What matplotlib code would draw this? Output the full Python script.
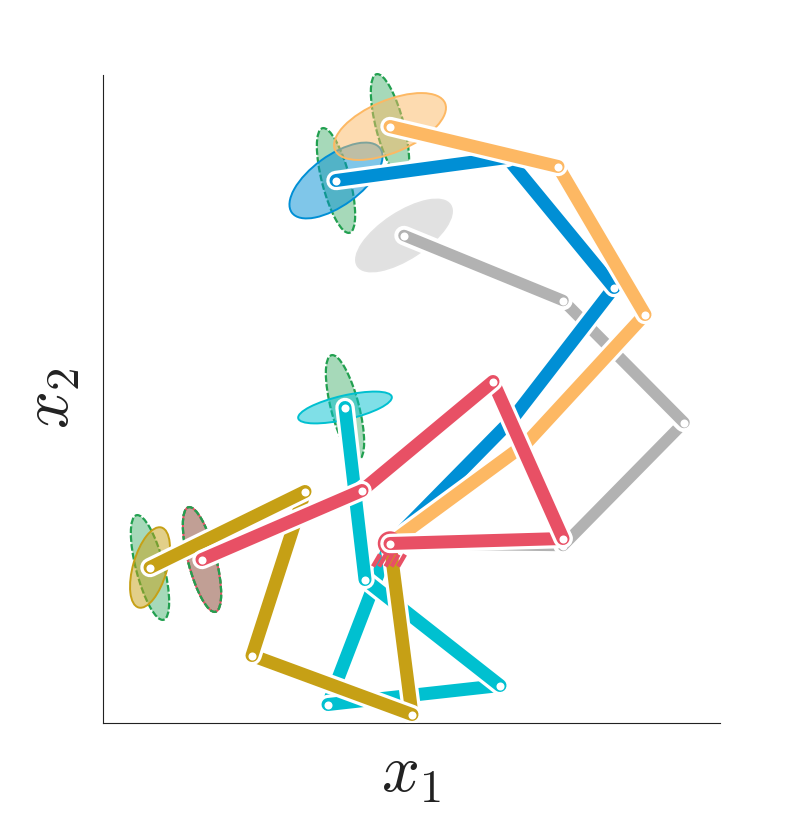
import numpy as np
import matplotlib
matplotlib.use("Agg")
import matplotlib.pyplot as plt
from matplotlib.patches import Ellipse, Circle
from matplotlib.colors import to_rgba

plt.rcParams['mathtext.fontset'] = 'cm'

W, H = 797, 828
base = (287, 179)

gray_x = [287, 460, 581, 460, 301]
gray_y = [179, 177, 300, 422, 487]
blue_x = [287, 409, 511, 404, 233]
blue_y = [179, 303, 435, 565, 542]
orange_x = [287, 423, 542, 455, 287]
orange_y = [179, 279, 408, 556, 596]
teal_x = [287, 225, 397, 262, 242]
teal_y = [179, 18, 37, 143, 315]
gold_x = [287, 309, 149, 202, 47]
gold_y = [179, 8, 67, 231, 155]
red_x = [287, 460, 390, 259, 99]
red_y = [179, 184, 341, 232, 163]

GRAY, BLUE, ORANGE = '#b2b2b2', '#008fd5', '#fdb863'
TEAL, GOLD, RED, GREEN = '#00c0d0', '#c6a015', '#e85065', '#22a050'

# covariance ellipses: semi-major, semi-minor, angle (deg)
green_axes = (54, 14, 104.5)
gray_ell = (55.4, 23, 33.3)
blue_ell = (54.6, 25, 36)
orange_ell = (59.8, 26, 23)
teal_ell = (48, 12, 13)
gold_ell = (41.6, 17, 74)
red_ell = (54, 14, 104.5)

fig = plt.figure(figsize=(W / 100, H / 100), dpi=100)
ax = fig.add_axes([103 / W, (H - 723.5) / H, 617 / W, 648 / H])
ax.set_xlim(0, 617)
ax.set_ylim(0, 648)
ax.set_xticks([])
ax.set_yticks([])
for s in ('top', 'right'):
    ax.spines[s].set_visible(False)
for s in ('left', 'bottom'):
    ax.spines[s].set_linewidth(0.8)
    ax.spines[s].set_color('#222222')


def ell(x, y, spec, color, z, alpha=0.5, ls='-', lw=1.4, face=True, edge=None):
    a, b, ang = spec
    ax.add_patch(Ellipse((x, y), 2 * a, 2 * b, angle=ang,
                         facecolor=to_rgba(color, alpha) if face else 'none',
                         edgecolor=edge or color, linewidth=lw, linestyle=ls,
                         zorder=z, clip_on=False))


DASH = (0, (3, 1))
for cx, cy in zip((blue_x[-1], orange_x[-1], teal_x[-1], gold_x[-1], red_x[-1]),
                  (blue_y[-1], orange_y[-1], teal_y[-1], gold_y[-1], red_y[-1])):
    ell(cx, cy, green_axes, GREEN, 1.5, alpha=0.4, ls=DASH, lw=1.6)

ell(gray_x[-1], gray_y[-1], gray_ell, '#c4c4c4', 1.2, alpha=0.5, edge='#e2e2e2')
ell(blue_x[-1], blue_y[-1], blue_ell, BLUE, 2)
ell(orange_x[-1], orange_y[-1], orange_ell, ORANGE, 3)
ell(teal_x[-1], teal_y[-1], teal_ell, TEAL, 3)
ell(gold_x[-1], gold_y[-1], gold_ell, GOLD, 3)
ell(red_x[-1], red_y[-1], red_ell, RED, 3, alpha=0.42)
ell(red_x[-1], red_y[-1], green_axes, GREEN, 3.1, ls=DASH, face=False, lw=1.6)

LW = 13.0
HALO = 19.5
z = 10
for xs, ys, c, lw in ((gray_x, gray_y, GRAY, 11.5),
                      (blue_x, blue_y, BLUE, LW),
                      (orange_x, orange_y, ORANGE, LW),
                      (teal_x, teal_y, TEAL, LW),
                      (gold_x, gold_y, GOLD, LW),
                      (red_x, red_y, RED, LW)):
    if c == RED:
        ax.add_patch(Circle(base, 10, facecolor='white', edgecolor=RED,
                            linewidth=3.2, zorder=z))
        z += 1
    for i in range(len(xs) - 1):
        ax.plot(xs[i:i + 2], ys[i:i + 2], color='white', lw=HALO * 0.72,
                solid_capstyle='round', zorder=z)
        ax.plot(xs[i:i + 2], ys[i:i + 2], color=c, lw=lw * 0.72,
                solid_capstyle='round', zorder=z + 0.1)
        ax.plot(xs[i:i + 2], ys[i:i + 2], ls='none', marker='o', ms=5.8,
                mfc='white', mec='none', zorder=z + 0.2)
        z += 1

for hx in (-17, -11, -4.5, 1.5, 8):
    ax.plot([base[0] + hx, base[0] + hx + 7],
            [base[1] - 23, base[1] - 11], color=RED, lw=3.2,
            solid_capstyle='butt', zorder=z)

fig.text(411 / W, 1 - 773 / H, r'$x_1$', fontsize=48, ha='center', va='center',
         color='#222222')
fig.text(50 / W, 1 - 398 / H, r'$x_2$', fontsize=48, ha='center', va='center',
         rotation=90, color='#222222')

fig.savefig('out.png', dpi=100)
